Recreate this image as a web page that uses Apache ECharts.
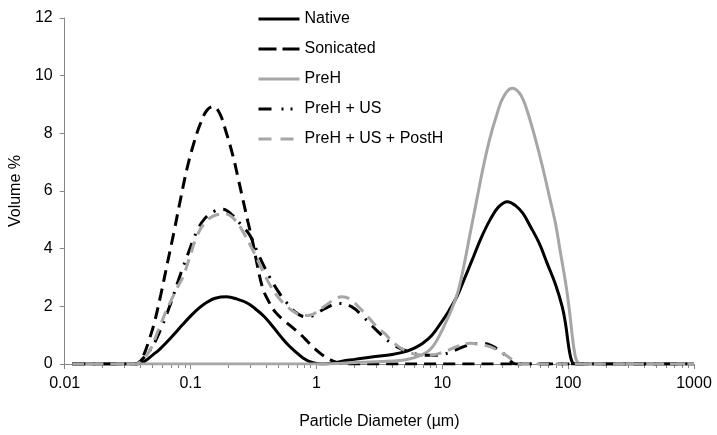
<!DOCTYPE html>
<html>
<head>
<meta charset="utf-8">
<script src="https://cdn.jsdelivr.net/npm/echarts@6/dist/echarts.min.js"></script>
<style>
  html, body { margin: 0; padding: 0; background: #fff; }
  #chart { width: 717px; height: 435px; }
</style>
</head>
<body>
<div id="chart"></div>
<script>
// particle diameter (µm), volume %
const nativeData = [
  [0.0115, 0], [0.038, 0], [0.04, 0.02], [0.044, 0.12], [0.0499, 0.31], [0.0565, 0.5],
  [0.0635, 0.72], [0.074, 1.03], [0.0858, 1.35], [0.1, 1.66], [0.116, 1.93], [0.135, 2.14],
  [0.157, 2.28], [0.193, 2.33], [0.235, 2.25], [0.286, 2.1], [0.33, 1.9], [0.386, 1.64],
  [0.45, 1.3], [0.522, 0.95], [0.6, 0.65], [0.706, 0.37], [0.8, 0.18], [0.898, 0.07],
  [1.0, 0.02], [1.15, 0], [1.35, 0.03], [1.6, 0.1], [2.0, 0.16], [2.5, 0.22],
  [3.2, 0.28], [4, 0.33], [5, 0.42], [6, 0.55], [7, 0.72], [8.2, 0.98], [9.7, 1.41],
  [11.3, 1.85], [13.1, 2.35], [15.3, 3.05], [17.7, 3.72], [20.5, 4.4], [23.9, 4.99],
  [28, 5.45], [33, 5.63], [38, 5.5], [43.6, 5.23], [50, 4.78], [58.9, 4.19], [68, 3.5],
  [79.5, 2.75], [89.7, 1.99], [95.2, 1.41], [101, 0.6], [104.5, 0.25], [108, 0.06],
  [113, 0], [1000, 0]
];
const sonicatedData = [
  [0.0115, 0], [0.037, 0], [0.04, 0.1], [0.043, 0.37], [0.047, 0.85], [0.0514, 1.41],
  [0.058, 2.4], [0.0654, 3.49], [0.074, 4.6], [0.083, 5.69], [0.094, 6.8], [0.106, 7.65],
  [0.12, 8.35], [0.135, 8.8], [0.152, 8.93], [0.17, 8.7], [0.19, 8.1], [0.218, 7.19],
  [0.24, 6.4], [0.261, 5.69], [0.285, 4.95], [0.313, 4.19], [0.34, 3.4], [0.375, 2.62],
  [0.42, 2.15], [0.476, 1.78], [0.55, 1.52], [0.62, 1.33], [0.7, 1.14], [0.772, 0.97],
  [0.85, 0.78], [0.925, 0.62], [1.05, 0.4], [1.18, 0.24], [1.33, 0.12], [1.48, 0.04],
  [1.65, 0], [1000, 0]
];
const prehData = [
  [0.0115, 0], [1.2, 0], [1.6, 0.03], [2.2, 0.06], [3, 0.08], [4, 0.1], [5, 0.14],
  [6, 0.22], [7, 0.33], [8, 0.5], [9, 0.8], [10.3, 1.3], [12, 1.95], [13.5, 2.6],
  [15, 3.5], [16.6, 4.5], [18.8, 5.7], [21.1, 6.8], [23.8, 7.8], [26.9, 8.6],
  [30.5, 9.25], [35.9, 9.56], [41, 9.4], [45, 9.05], [49.1, 8.55], [55, 7.8],
  [62.5, 6.85], [70.6, 5.85], [79.5, 4.85], [87, 3.85], [95.2, 2.85], [100, 2.2],
  [104, 1.6], [108, 0.95], [112, 0.45], [116, 0.15], [122, 0.02], [128, 0], [1000, 0]
];
const prehUsData = [
  [0.0115, 0], [0.037, 0], [0.041, 0.15], [0.048, 0.5], [0.056, 1.05], [0.0695, 2.1],
  [0.08, 2.9], [0.095, 3.8], [0.112, 4.59], [0.13, 5.05], [0.155, 5.3], [0.18, 5.37],
  [0.21, 5.2], [0.25, 4.85], [0.295, 4.47], [0.35, 3.75], [0.423, 3.03], [0.5, 2.5],
  [0.571, 2.16], [0.68, 1.8], [0.82, 1.64], [0.92, 1.66], [1.01, 1.76], [1.2, 1.95],
  [1.5, 2.1], [1.9, 1.99], [2.4, 1.6], [3.08, 1.12], [4, 0.7], [5.3, 0.43], [6.5, 0.33],
  [8, 0.3], [10, 0.33], [13, 0.5], [16, 0.65], [21, 0.72], [25, 0.62], [30.4, 0.37],
  [34, 0.15], [38.4, 0], [1000, 0]
];
const prehUsPosthData = [
  [0.0115, 0], [0.037, 0], [0.041, 0.12], [0.048, 0.5], [0.0546, 1.1], [0.065, 1.9],
  [0.0775, 2.6], [0.0885, 3.1], [0.1, 3.8], [0.112, 4.42], [0.13, 4.9], [0.155, 5.15],
  [0.19, 5.2], [0.225, 5.0], [0.26, 4.6], [0.3, 4.1], [0.35, 3.5], [0.42, 2.8], [0.5, 2.3],
  [0.58, 2.0], [0.68, 1.78], [0.8, 1.68], [0.9, 1.7], [1.0, 1.8], [1.2, 2.05], [1.4, 2.25],
  [1.59, 2.33], [1.85, 2.25], [2.2, 1.95], [2.57, 1.64], [3, 1.3], [3.48, 1.06], [4.2, 0.7],
  [5.3, 0.43], [6.5, 0.32], [8, 0.3], [10, 0.4], [13, 0.6], [16.6, 0.72], [20, 0.68],
  [23.9, 0.6], [28, 0.45], [32, 0.3], [36.3, 0.14], [40, 0.03], [42, 0], [1000, 0]
];
const seriesNames = ['Native', 'Sonicated', 'PreH', 'PreH + US', 'PreH + US + PostH'];

const font = 'Liberation Sans, Arial, sans-serif';
const axisGray = '#868686';
const black = '#000000';
const gray = '#a6a6a6';

const chart = echarts.init(document.getElementById('chart'));

const makeLine = (name, data, color, dash) => ({
  name,
  type: 'line',
  data,
  smooth: 0.4,
  symbol: 'none',
  lineStyle: { color, width: 3, type: dash, cap: 'butt' },
  itemStyle: { color },
  emphasis: { disabled: true }
});

chart.setOption({
  animation: false,
  grid: { left: 56, right: 23, top: 18, bottom: 71 },
  legend: {
    orient: 'vertical',
    left: 252,
    top: 6,
    itemWidth: 41,
    itemHeight: 16,
    itemGap: 14,
    itemStyle: { opacity: 0 },
    lineStyle: { width: 3 },
    textStyle: { fontFamily: font, fontSize: 16, color: '#000', lineHeight: 16 },
    // legend samples use Excel-like longer dashes
    data: [
      { name: seriesNames[0], lineStyle: { width: 3 } },
      { name: seriesNames[1], lineStyle: { width: 3, type: [18, 6] } },
      { name: seriesNames[2], lineStyle: { width: 3 } },
      { name: seriesNames[3], lineStyle: { width: 3, type: [13, 10, 2, 7, 2, 7] } },
      { name: seriesNames[4], lineStyle: { width: 3, type: [13, 9] } }
    ]
  },
  xAxis: {
    type: 'log',
    logBase: 10,
    min: 0.01,
    max: 1000,
    name: 'Particle Diameter (µm)',
    nameLocation: 'middle',
    nameGap: 50,
    nameTextStyle: { fontFamily: font, fontSize: 16, color: '#000' },
    axisLine: { show: true, lineStyle: { color: axisGray, width: 1 } },
    axisTick: { show: true, length: 5, lineStyle: { color: axisGray } },
    minorTick: { show: true, splitNumber: 9, length: 4, lineStyle: { color: axisGray } },
    axisLabel: {
      fontFamily: font, fontSize: 16, color: '#000', margin: 12,
      formatter: v => String(v)
    },
    splitLine: { show: false }
  },
  yAxis: {
    type: 'value',
    min: 0,
    max: 12,
    interval: 2,
    name: 'Volume %',
    nameLocation: 'middle',
    nameGap: 32,
    nameTextStyle: { fontFamily: font, fontSize: 16, color: '#000' },
    axisLine: { show: true, lineStyle: { color: axisGray, width: 1 } },
    axisTick: { show: true, length: 5, lineStyle: { color: axisGray } },
    axisLabel: { fontFamily: font, fontSize: 16, color: '#000', margin: 12 },
    splitLine: { show: false }
  },
  series: [
    makeLine(seriesNames[0], nativeData, black, 'solid'),
    makeLine(seriesNames[1], sonicatedData, black, [12, 7]),
    makeLine(seriesNames[2], prehData, gray, 'solid'),
    makeLine(seriesNames[3], prehUsData, black, [13, 8, 2, 8]),
    makeLine(seriesNames[4], prehUsPosthData, gray, [12, 7])
  ]
});
</script>
</body>
</html>
